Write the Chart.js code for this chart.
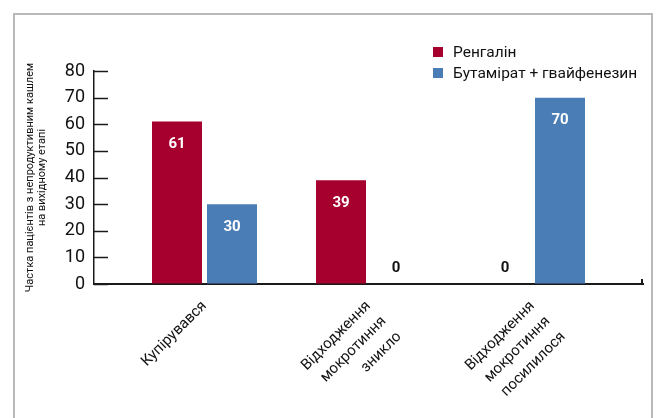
<!DOCTYPE html>
<html>
<head>
<meta charset="utf-8">
<script src="https://cdn.jsdelivr.net/npm/chart.js@4.4.1/dist/chart.umd.min.js"></script>
<style>
  html, body { margin: 0; padding: 0; background: #fff; overflow: hidden; }
  #wrap { position: relative; width: 663px; height: 418px; }
  #frame { position: absolute; left: 13px; top: 13px; width: 640px; height: 500px;
           border: 2px solid #b9b9b9; border-bottom: none; box-sizing: border-box; }
  canvas { position: absolute; left: 0; top: 0; }
  .leg { position: absolute; left: 433px; font: 15.5px Roboto, "Noto Sans", sans-serif; color: #111; white-space: nowrap; }
  .leg span.sw { display: inline-block; width: 10px; height: 10px; vertical-align: middle; margin-right: 10px; position: relative; top: -1px; }
</style>
</head>
<body>
<div id="wrap">
  <div id="frame"></div>
  <canvas id="c" width="663" height="418"></canvas>
  <div id="legend"></div>
</div>
<script>
// ---- data ----
const categories = [
  ['Купірувався'],
  ['Відходження', 'мокротиння', 'зникло'],
  ['Відходження', 'мокротиння', 'посилилося']
];
const seriesNames = ['Ренгалін', 'Бутамірат + гвайфенезин'];
const rengalin = [61, 39, 0];
const butamirat = [30, 0, 70];
const yTicks = [0, 10, 20, 30, 40, 50, 60, 70, 80];
const yTitle = ['Частка пацієнтів з непродуктивним кашлем', 'на вихідному етапі'];
const colors = ['#a6002f', '#4a7db6'];

// ---- legend (HTML) ----
const legend = document.getElementById('legend');
seriesNames.forEach((n, i) => {
  const d = document.createElement('div');
  d.className = 'leg';
  d.style.top = (43 + i * 21) + 'px';
  d.innerHTML = '<span class="sw" style="background:' + colors[i] + '"></span>' + n;
  legend.appendChild(d);
});

const FONT = 'Roboto';

const toXY = arr => arr.map((v, i) => ({ x: i + 1, y: v }));

const axisDeco = {
  id: 'axisDeco',
  afterDraw(chart) {
    const ctx = chart.ctx;
    const y = chart.scales.y, x = chart.scales.x;
    ctx.save();
    ctx.strokeStyle = '#1a1a1a';
    ctx.lineWidth = 1.5;
    yTicks.forEach(v => {
      const py = Math.round(y.getPixelForValue(v)) + 0.5;
      ctx.beginPath();
      ctx.moveTo(x.left, py);
      ctx.lineTo(x.left + 14, py);
      ctx.stroke();
    });
    const by = y.getPixelForValue(0);
    ctx.lineWidth = 2;
    ctx.beginPath();
    ctx.moveTo(x.right - 1, by);
    ctx.lineTo(x.right - 1, by - 5);
    ctx.stroke();
    ctx.restore();
  }
};

const valueLabels = {
  id: 'valueLabels',
  afterDatasetsDraw(chart) {
    const ctx = chart.ctx;
    ctx.save();
    ctx.font = 'bold 15px ' + FONT;
    ctx.textAlign = 'center';
    ctx.textBaseline = 'middle';
    chart.data.datasets.forEach((ds, di) => {
      const meta = chart.getDatasetMeta(di);
      meta.data.forEach((el, i) => {
        const v = ds.data[i].y;
        if (v > 0) {
          ctx.fillStyle = '#ffffff';
          ctx.fillText(String(v), el.x, el.y + 23);
        } else {
          ctx.fillStyle = '#111111';
          ctx.fillText(String(v), el.x, el.y - 16);
        }
      });
    });
    ctx.restore();
  }
};

new Chart(document.getElementById('c'), {
  type: 'bar',
  data: {
    datasets: [
      { label: seriesNames[0], data: toXY(rengalin), backgroundColor: colors[0] },
      { label: seriesNames[1], data: toXY(butamirat), backgroundColor: colors[1] }
    ]
  },
  options: {
    responsive: false,
    animation: false,
    devicePixelRatio: 1,
    categoryPercentage: 110 / 164,
    barPercentage: 50 / 55,
    layout: { padding: { left: 0, top: 71, right: 20, bottom: 0 } },
    plugins: { legend: { display: false }, tooltip: { enabled: false } },
    scales: {
      x: {
        type: 'linear',
        offset: false,
        min: 1 - 110.5 / 164,
        max: 3 + 110.5 / 164,
        afterBuildTicks: s => { s.ticks = categories.map((c, i) => ({ value: i + 1 })); },
        afterFit: s => { s.height = 134; },
        grid: { display: true, drawOnChartArea: false, drawTicks: false, color: 'rgba(0,0,0,0)' },
        border: { display: true, color: '#1a1a1a', width: 2 },
        ticks: {
          autoSkip: false,
          minRotation: 45,
          maxRotation: 45,
          padding: 12,
          color: '#111',
          font: { family: FONT, size: 15, lineHeight: 1.45 },
          callback: (v) => categories[Math.round(v) - 1] || ''
        }
      },
      y: {
        min: 0,
        max: 80,
        afterBuildTicks: s => { s.ticks = yTicks.map(v => ({ value: v })); },
        afterFit: s => { s.width = 94; },
        grid: { display: true, drawOnChartArea: false, drawTicks: false, color: 'rgba(0,0,0,0)' },
        border: { display: true, color: '#1a1a1a', width: 1.5 },
        ticks: {
          padding: 9,
          color: '#111',
          font: { family: FONT, size: 18 }
        },
        title: {
          display: true,
          text: yTitle,
          color: '#111',
          font: { family: FONT, size: 11, lineHeight: 1.1 },
          padding: { top: 24, bottom: 0 }
        }
      }
    }
  },
  plugins: [axisDeco, valueLabels]
});
</script>
</body>
</html>
